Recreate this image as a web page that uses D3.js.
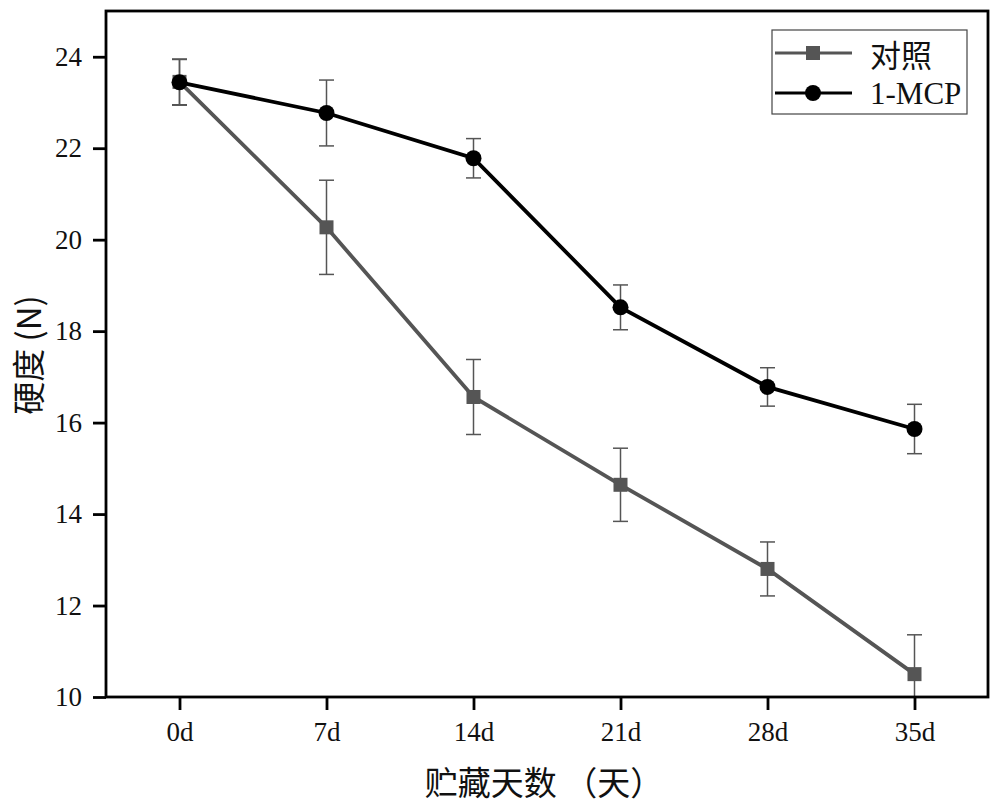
<!DOCTYPE html>
<html>
<head>
<meta charset="utf-8">
<script src="https://cdn.jsdelivr.net/npm/d3@7"></script>
<style>
  body { margin: 0; background: #fff; }
  svg text { fill: #111; }
</style>
</head>
<body>
<svg id="chart" width="1000" height="805"></svg>
<script>
const days = ["0d", "7d", "14d", "21d", "28d", "35d"];
const controlMean = [23.45, 20.27, 16.56, 14.64, 12.8, 10.5];
const controlErr = [0.5, 1.03, 0.82, 0.8, 0.59, 0.86];
const mcpMean = [23.44, 22.77, 21.78, 18.52, 16.78, 15.86];
const mcpErr = [0.5, 0.72, 0.43, 0.49, 0.42, 0.54];
const yTicks = [10, 12, 14, 16, 18, 20, 22, 24];

const svg = d3.select("#chart");
const margin = { top: 11, right: 12, bottom: 108, left: 106 };
const width = 1000 - margin.left - margin.right;
const height = 805 - margin.top - margin.bottom;
const g = svg.append("g").attr("transform", `translate(${margin.left},${margin.top})`);

const x = d3.scalePoint().domain(days).range([0, width]).padding(0.5);
const y = d3.scaleLinear().domain([10, 25]).range([height, 0]);

const serif = "'Liberation Serif', 'DejaVu Serif', serif";
const cjk = "'Noto Sans CJK SC', sans-serif";

g.append("clipPath").attr("id", "clip")
  .append("rect").attr("width", width).attr("height", height);

const series = [
  { name: "对照", mean: controlMean, err: controlErr, color: "#555", shape: "square" },
  { name: "1-MCP", mean: mcpMean, err: mcpErr, color: "#000", shape: "circle" }
];

const line = d3.line().x(d => x(d.day)).y(d => y(d.v));
const plot = g.append("g").attr("clip-path", "url(#clip)");

series.forEach(s => {
  const pts = days.map((d, i) => ({ day: d, v: s.mean[i], e: s.err[i] }));
  const eb = plot.append("g").attr("stroke", "#555").attr("stroke-width", 1.5);
  pts.forEach(p => {
    const cx = x(p.day);
    eb.append("line").attr("x1", cx).attr("x2", cx).attr("y1", y(p.v + p.e)).attr("y2", y(p.v - p.e));
    eb.append("line").attr("x1", cx - 7.5).attr("x2", cx + 7.5).attr("y1", y(p.v + p.e)).attr("y2", y(p.v + p.e));
    eb.append("line").attr("x1", cx - 7.5).attr("x2", cx + 7.5).attr("y1", y(p.v - p.e)).attr("y2", y(p.v - p.e));
  });
  s.pts = pts;
});

series.forEach(s => {
  plot.append("path").datum(s.pts)
    .attr("fill", "none").attr("stroke", s.color).attr("stroke-width", 3.8)
    .attr("d", line);
  if (s.shape === "square") {
    plot.selectAll(null).data(s.pts).enter().append("rect")
      .attr("x", d => x(d.day) - 7).attr("y", d => y(d.v) - 7)
      .attr("width", 14).attr("height", 14).attr("fill", s.color);
  } else {
    plot.selectAll(null).data(s.pts).enter().append("circle")
      .attr("cx", d => x(d.day)).attr("cy", d => y(d.v)).attr("r", 8).attr("fill", s.color);
  }
});

// frame
g.append("rect").attr("width", width).attr("height", height)
  .attr("fill", "none").attr("stroke", "#000").attr("stroke-width", 2.8);

const yAxis = g.append("g")
  .call(d3.axisLeft(y).tickValues(yTicks).tickSize(13).tickPadding(11).tickFormat(d3.format("d")));
yAxis.select(".domain").remove();
yAxis.selectAll("line").attr("stroke", "#000").attr("stroke-width", 2.8);
yAxis.selectAll("text").style("font-family", serif).style("font-size", "27px").attr("fill", "#111");

const xAxis = g.append("g").attr("transform", `translate(0,${height})`)
  .call(d3.axisBottom(x).tickSize(13).tickPadding(12));
xAxis.select(".domain").remove();
xAxis.selectAll("line").attr("stroke", "#000").attr("stroke-width", 2.8);
xAxis.selectAll("text").style("font-family", serif).style("font-size", "27px").attr("fill", "#111");

svg.append("text")
  .attr("transform", "translate(27,355) rotate(-90)")
  .attr("text-anchor", "middle").attr("dominant-baseline", "central")
  .style("font-family", cjk).style("font-size", "33px")
  .text("硬度 (N)");

svg.append("text")
  .attr("x", 544).attr("y", 781)
  .attr("text-anchor", "middle").attr("dominant-baseline", "central")
  .style("font-family", cjk).style("font-size", "33px")
  .text("贮藏天数 （天）");

// legend
const legend = svg.append("g").attr("transform", "translate(772,30)");
legend.append("rect").attr("width", 195).attr("height", 84)
  .attr("fill", "#fff").attr("stroke", "#444").attr("stroke-width", 1.2);
series.forEach((s, i) => {
  const ly = 23 + i * 40;
  const row = legend.append("g").attr("transform", `translate(0,${ly})`);
  row.append("line").attr("x1", 3).attr("x2", 80).attr("y1", 0).attr("y2", 0)
    .attr("stroke", s.color).attr("stroke-width", 3);
  if (s.shape === "square") {
    row.append("rect").attr("x", 34).attr("y", -7).attr("width", 14).attr("height", 14).attr("fill", s.color);
  } else {
    row.append("circle").attr("cx", 41).attr("cy", 0).attr("r", 8).attr("fill", s.color);
  }
  row.append("text").attr("x", 98).attr("y", 0).attr("dominant-baseline", "central")
    .style("font-family", s.shape === "square" ? cjk : serif).style("font-size", "31px")
    .text(s.name);
});
</script>
</body>
</html>
